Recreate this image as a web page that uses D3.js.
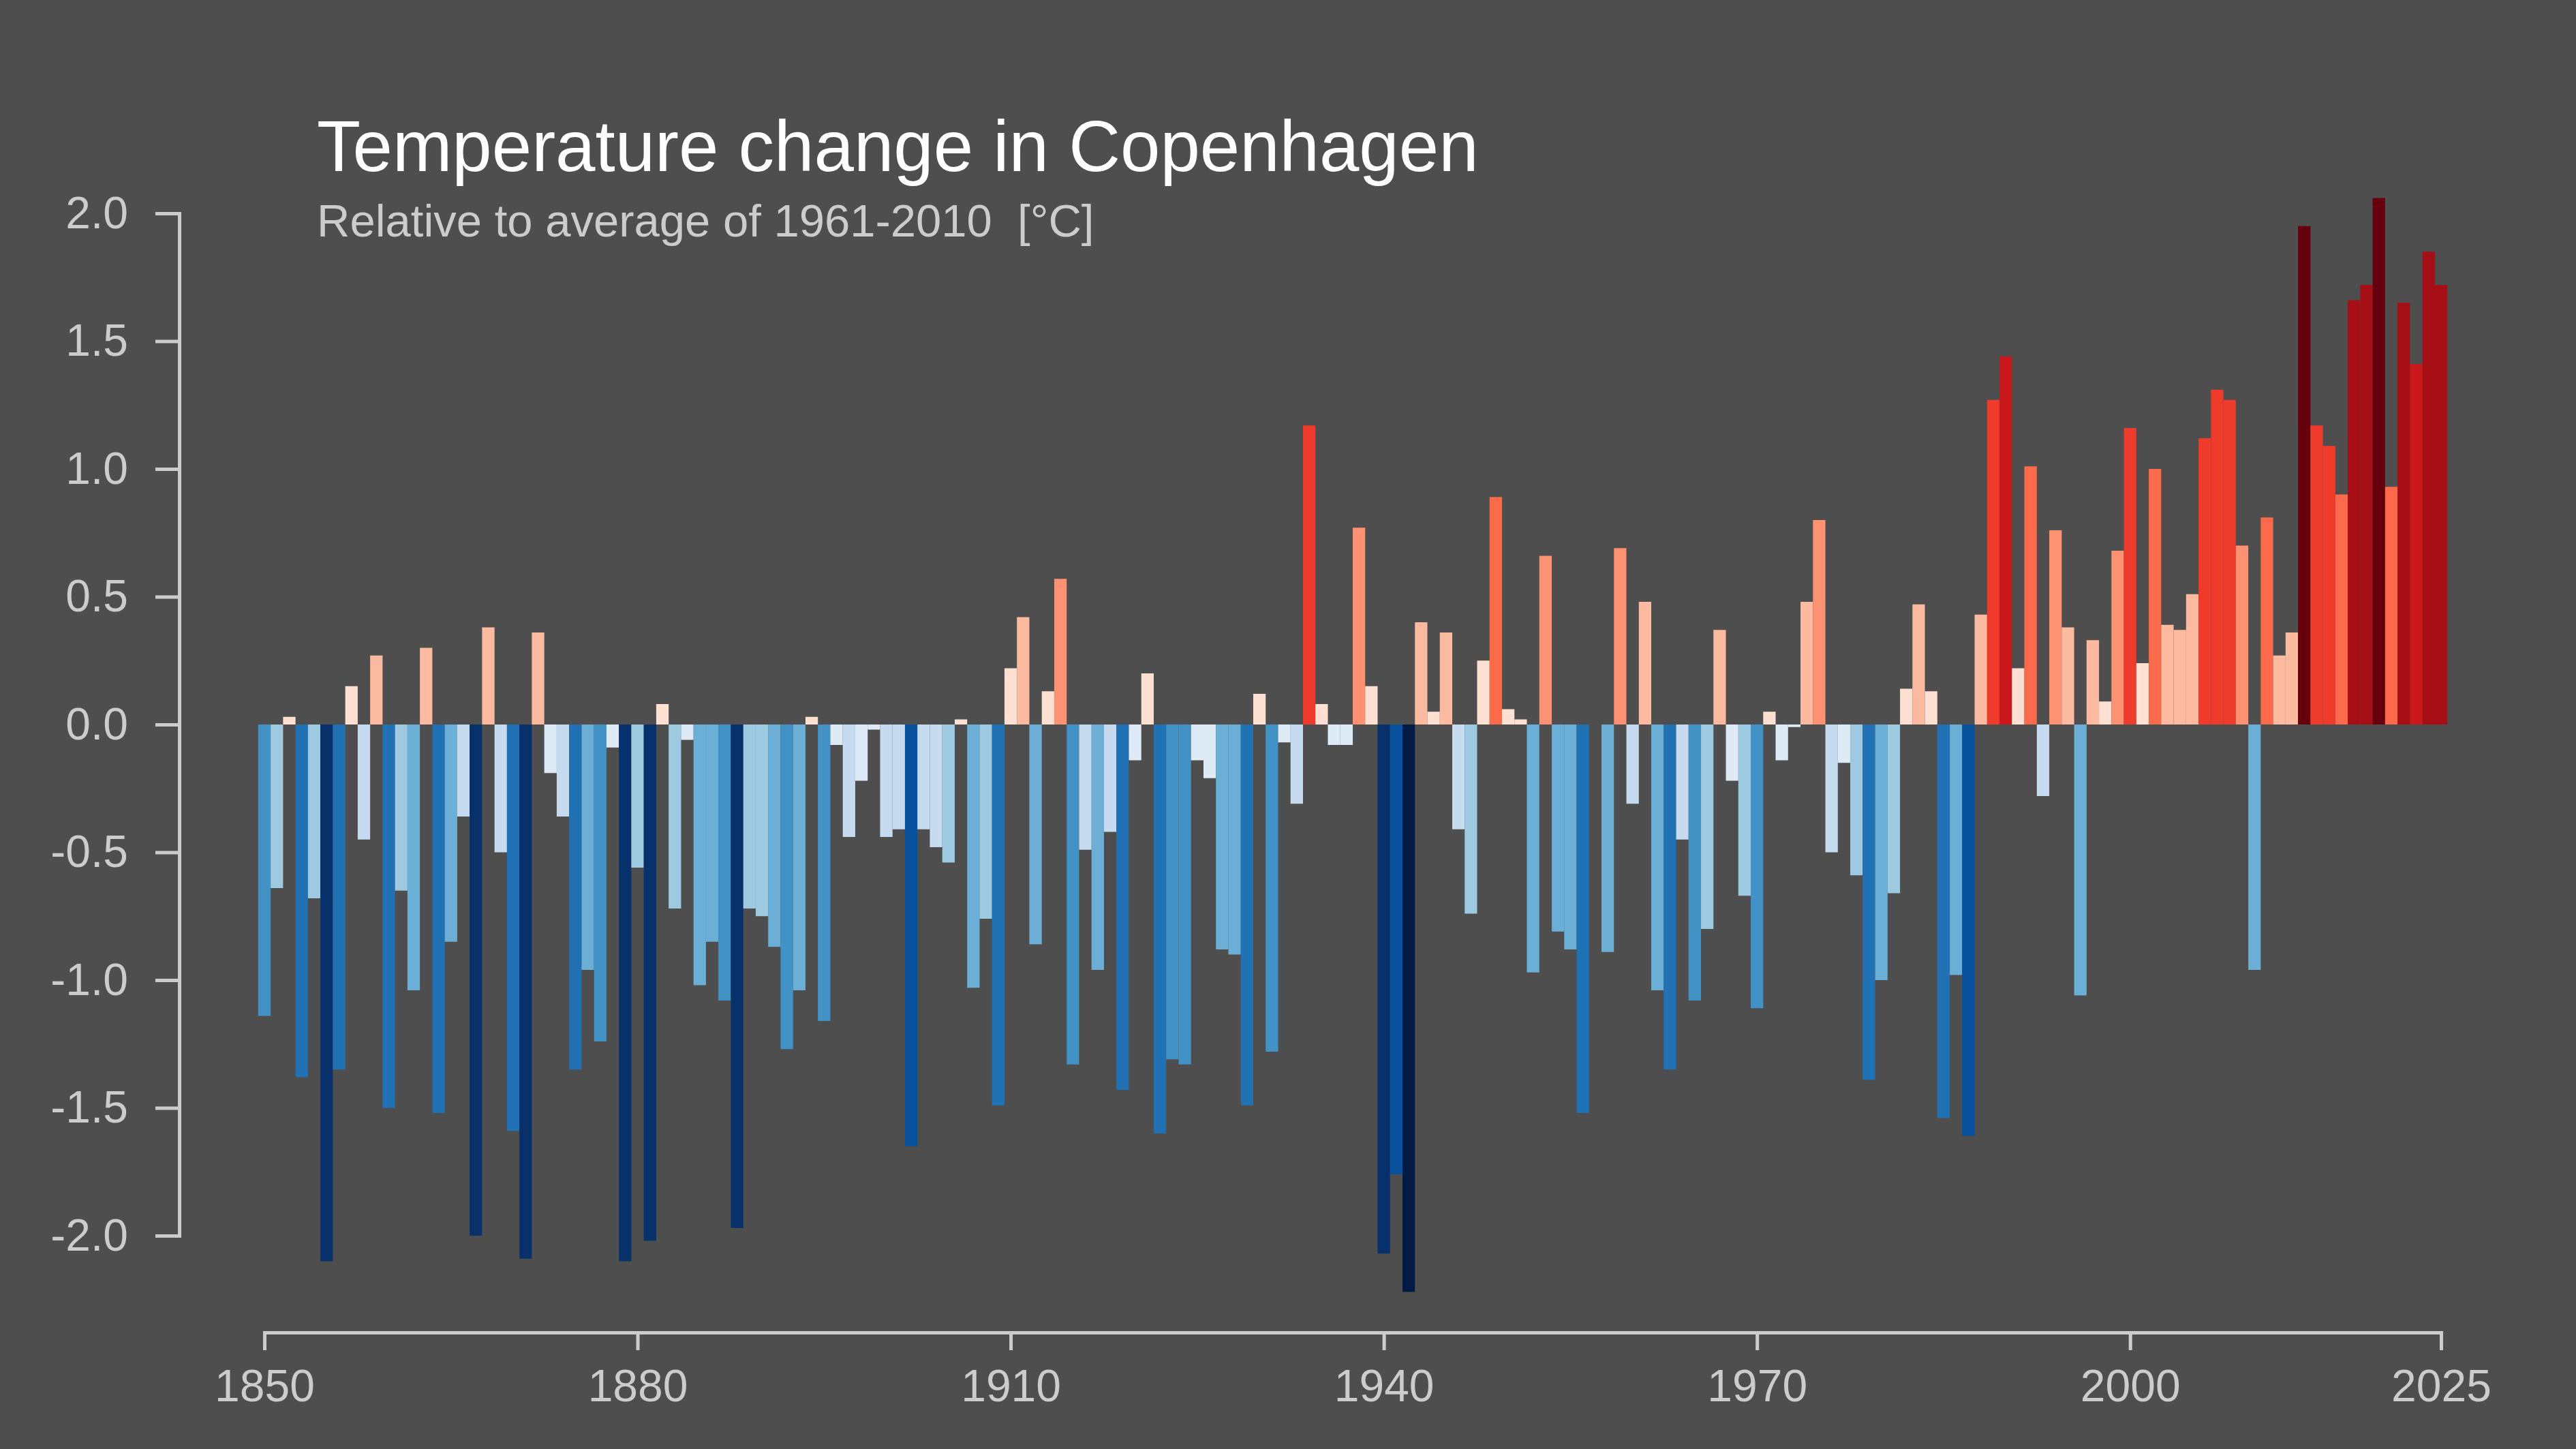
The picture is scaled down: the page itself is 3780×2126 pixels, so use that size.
<!DOCTYPE html>
<html>
<head>
<meta charset="utf-8">
<script src="https://cdn.jsdelivr.net/npm/d3@7"></script>
<style>
  html, body { margin: 0; padding: 0; background: #4e4e4e; }
  svg { display: block; font-family: "Liberation Sans", Arial, sans-serif; }
  .axis path, .axis line { stroke: #cccccc; stroke-width: 5; }
  .axis text { fill: #cccccc; font-size: 66px; font-family: "Liberation Sans", Arial, sans-serif; }
</style>
</head>
<body>
<svg></svg>
<script>
// yearly anomalies, 1850 .. 2025
const firstYear = 1850
const anomalies = [
    -1.14, -0.64, 0.03, -1.38, -0.68, -2.10, -1.35, 0.15, -0.45, 0.27,
    -1.50, -0.65, -1.04, 0.30, -1.52, -0.85, -0.36, -2.00, 0.38, -0.50,
    -1.59, -2.09, 0.36, -0.19, -0.36, -1.35, -0.96, -1.24, -0.09, -2.10,
    -0.56, -2.02, 0.08, -0.72, -0.06, -1.02, -0.85, -1.08, -1.97, -0.72,
    -0.75, -0.87, -1.27, -1.04, 0.03, -1.16, -0.08, -0.44, -0.22, -0.02,
    -0.44, -0.41, -1.65, -0.41, -0.48, -0.54, 0.02, -1.03, -0.76, -1.49,
    0.22, 0.42, -0.86, 0.13, 0.57, -1.33, -0.49, -0.96, -0.42, -1.43,
    -0.14, 0.20, -1.60, -1.31, -1.33, -0.14, -0.21, -0.88, -0.90, -1.49,
    0.12, -1.28, -0.07, -0.31, 1.17, 0.08, -0.08, -0.08, 0.77, 0.15,
    -2.07, -1.76, -2.22, 0.40, 0.05, 0.36, -0.41, -0.74, 0.25, 0.89,
    0.06, 0.02, -0.97, 0.66, -0.81, -0.88, -1.52, 0.00, -0.89, 0.69,
    -0.31, 0.48, -1.04, -1.35, -0.45, -1.08, -0.80, 0.37, -0.22, -0.67,
    -1.11, 0.05, -0.14, -0.01, 0.48, 0.80, -0.50, -0.15, -0.59, -1.39,
    -1.00, -0.66, 0.14, 0.47, 0.13, -1.54, -0.98, -1.61, 0.43, 1.27,
    1.44, 0.22, 1.01, -0.28, 0.76, 0.38, -1.06, 0.33, 0.09, 0.68,
    1.16, 0.24, 1.00, 0.39, 0.37, 0.51, 1.12, 1.31, 1.27, 0.70,
    -0.96, 0.81, 0.27, 0.36, 1.95, 1.17, 1.09, 0.90, 1.66, 1.72,
    2.06, 0.93, 1.65, 1.41, 1.85, 1.72
]

const xTicks = [1850, 1880, 1910, 1940, 1970, 2000, 2025]
const yTicks = [-2.0, -1.5, -1.0, -0.5, 0.0, 0.5, 1.0, 1.5, 2.0]

// stripes palette, coldest to warmest
const stripeColors = [
    "#021b44", "#08306b", "#08519c", "#2171b5", "#4292c6", "#6baed6",
    "#9ecae1", "#c6dbef", "#deebf7", "#fee0d2", "#fcbba1", "#fc9272",
    "#fb6a4a", "#ef3b2c", "#cb181d", "#a50f15", "#67000d", "#3d0008"
]

const titleText = "Temperature change in Copenhagen"
const subtitleText = "Relative to average of 1961-2010  [°C]"

const data = anomalies.map((v, i) => ({year: firstYear + i, value: v}))

const svg = d3.select("svg")
    .attr("width", 3780)
    .attr("height", 2126)
    .attr("viewBox", "0 0 3780 2126")

svg.append("rect")
    .attr("width", 3780)
    .attr("height", 2126)
    .attr("fill", "#4e4e4e")

// scales
const scaleX = d3.scaleLinear()
    .domain([1850, 2025])
    .range([388, 3582])

const scaleY = d3.scaleLinear()
    .domain([-2, 2])
    .range([1813, 313])

const scaleColor = d3.scaleQuantize()
    .domain([-2.412, 2.412])
    .range(stripeColors)

// bars
svg.append("g")
    .attr("class", "bars")
    .selectAll("rect")
    .data(data)
    .enter()
    .append("rect")
    .attr("x", d => scaleX(d.year - 0.5))
    .attr("width", d => scaleX(d.year + 0.5) - scaleX(d.year - 0.5))
    .attr("y", d => scaleY(Math.max(0, d.value)))
    .attr("height", d => Math.abs(scaleY(d.value) - scaleY(0)))
    .attr("fill", d => scaleColor(d.value))

// axes
const axisY = d3.axisLeft(scaleY)
    .tickValues(yTicks)
    .tickFormat(d => d.toFixed(1))
    .tickSize(35)
    .tickPadding(40)

svg.append("g")
    .attr("class", "axis y-axis")
    .attr("transform", "translate(263, 0)")
    .call(axisY)

const axisX = d3.axisBottom(scaleX)
    .tickValues(xTicks)
    .tickFormat(d => String(d))
    .tickSize(26)
    .tickPadding(28)

svg.append("g")
    .attr("class", "axis x-axis")
    .attr("transform", "translate(0, 1955)")
    .call(axisX)

// titles
svg.append("text")
    .attr("x", 465)
    .attr("y", 251)
    .attr("fill", "#ffffff")
    .attr("font-size", 105)
    .text(titleText)

svg.append("text")
    .attr("x", 465)
    .attr("y", 347)
    .attr("fill", "#cccccc")
    .attr("font-size", 67)
    .style("white-space", "pre")
    .text(subtitleText)
</script>
</body>
</html>
